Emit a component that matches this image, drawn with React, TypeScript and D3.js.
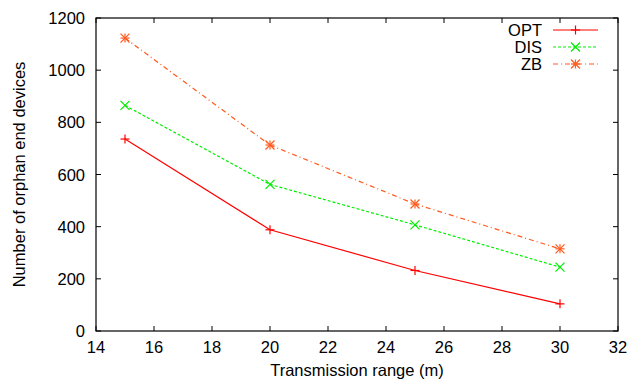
import React from "react";
import * as d3 from "d3";

const ranges = [15, 20, 25, 30];
const optValues = [736, 388, 232, 104];
const disValues = [865, 562, 407, 245];
const zbValues = [1123, 713, 487, 315];
const xTicks = [14, 16, 18, 20, 22, 24, 26, 28, 30, 32];
const yTicks = [0, 200, 400, 600, 800, 1000, 1200];
const seriesNames = ["OPT", "DIS", "ZB"];

const W = 632, H = 384;
const L = 96, R = 618, T = 18, B = 331;

type Series = { name: string; values: number[]; color: string; dash: string; marker: string };

function Marker({ type, x, y, color }: { type: string; x: number; y: number; color: string }) {
  const s = 4.5;
  const plus = (
    <>
      <line x1={x - s} x2={x + s} y1={y} y2={y} />
      <line x1={x} x2={x} y1={y - s} y2={y + s} />
    </>
  );
  const cross = (
    <>
      <line x1={x - s} x2={x + s} y1={y - s} y2={y + s} />
      <line x1={x - s} x2={x + s} y1={y + s} y2={y - s} />
    </>
  );
  return (
    <g stroke={color} strokeWidth={1.2} fill="none">
      {type === "plus" && plus}
      {type === "cross" && cross}
      {type === "star" && (
        <>
          {plus}
          {cross}
        </>
      )}
    </g>
  );
}

export default function App() {
  const x = d3.scaleLinear().domain([14, 32]).range([L, R]);
  const y = d3.scaleLinear().domain([0, 1200]).range([B, T]);
  const series: Series[] = [
    { name: seriesNames[0], values: optValues, color: "#ff0000", dash: "", marker: "plus" },
    { name: seriesNames[1], values: disValues, color: "#00ee00", dash: "3,2", marker: "cross" },
    { name: seriesNames[2], values: zbValues, color: "#ff5a1e", dash: "5,3,1,3", marker: "star" },
  ];
  const line = d3
    .line<[number, number]>()
    .x((d) => x(d[0]))
    .y((d) => y(d[1]));
  const font = "'Liberation Sans', Arial, sans-serif";
  const tl = 5;
  const fs = 16.5;
  return (
    <svg width={W} height={H} style={{ position: "absolute", left: 0, top: 0, background: "#fff" }} fontFamily={font}>
      <g stroke="#000" strokeWidth={1}>
        {xTicks.map((t) => (
          <g key={"x" + t}>
            <line x1={x(t)} x2={x(t)} y1={B} y2={B - tl} />
            <line x1={x(t)} x2={x(t)} y1={T} y2={T + tl} />
          </g>
        ))}
        {yTicks.map((t) => (
          <g key={"y" + t}>
            <line x1={L} x2={L + tl} y1={y(t)} y2={y(t)} />
            <line x1={R} x2={R - tl} y1={y(t)} y2={y(t)} />
          </g>
        ))}
      </g>
      {xTicks.map((t) => (
        <text key={"xl" + t} x={x(t)} y={352.5} fontSize={fs} textAnchor="middle">
          {t}
        </text>
      ))}
      {yTicks.map((t) => (
        <text key={"yl" + t} x={85} y={y(t) + 6} fontSize={fs} textAnchor="end">
          {t}
        </text>
      ))}
      <text x={357} y={376} fontSize={fs} textAnchor="middle">
        Transmission range (m)
      </text>
      <text transform={`translate(24.5,${(T + B) / 2}) rotate(-90)`} fontSize={fs} textAnchor="middle">
        Number of orphan end devices
      </text>
      {series.map((s) => {
        const pts: [number, number][] = ranges.map((r, i) => [r, s.values[i]]);
        return (
          <g key={s.name}>
            <path d={line(pts) || ""} fill="none" stroke={s.color} strokeWidth={1.2} strokeDasharray={s.dash} />
            {pts.map((p, i) => (
              <Marker key={i} type={s.marker} x={x(p[0])} y={y(p[1])} color={s.color} />
            ))}
          </g>
        );
      })}
      {series.map((s, i) => {
        const ly = 30 + i * 17;
        return (
          <g key={"lg" + s.name}>
            <text x={542} y={ly + 6} fontSize={fs} textAnchor="end">
              {s.name}
            </text>
            <line x1={553} x2={598} y1={ly} y2={ly} stroke={s.color} strokeWidth={1.2} strokeDasharray={s.dash} />
            <Marker type={s.marker} x={575.5} y={ly} color={s.color} />
          </g>
        );
      })}
      <rect x={L} y={T} width={R - L} height={B - T} fill="none" stroke="#000" strokeWidth={1.2} />
    </svg>
  );
}
